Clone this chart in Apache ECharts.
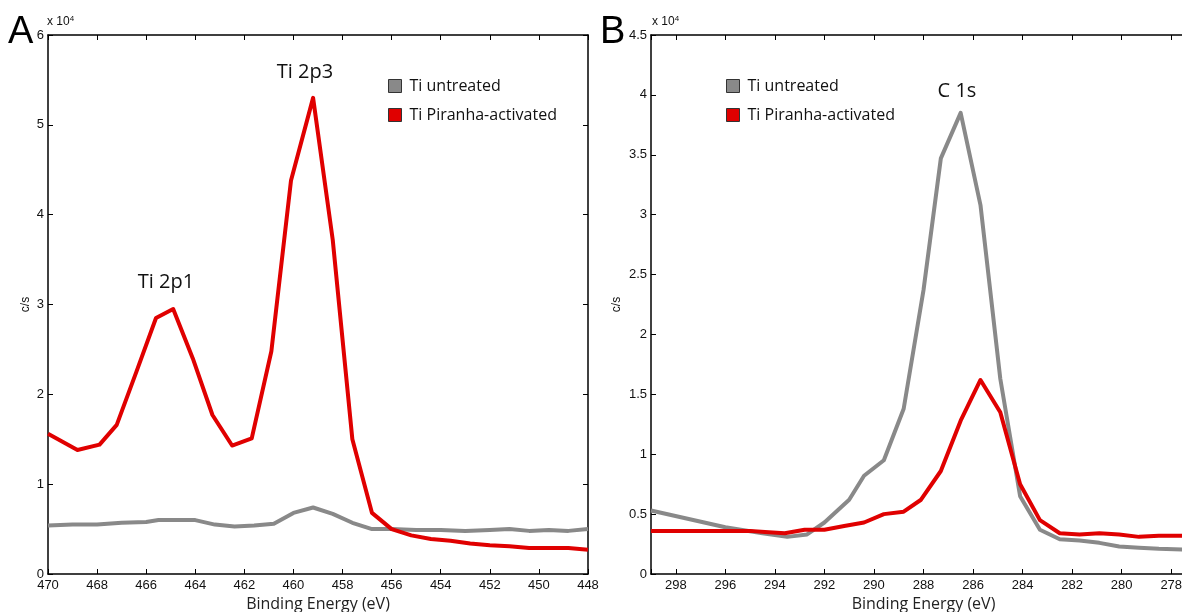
<!DOCTYPE html>
<html>
<head>
<meta charset="utf-8">
<script src="https://cdn.jsdelivr.net/npm/echarts@6/dist/echarts.min.js"></script>
<style>
html,body{margin:0;padding:0;background:#fff;}
#chart{width:1182px;height:612px;}
</style>
</head>
<body>
<div id="chart"></div>
<script>
// Panel A: Ti 2p region (values in units of 10^4 c/s)
const tiEnergyRed = [470, 468.8, 467.9, 467.2, 466.4, 465.6, 464.9, 464.1, 463.3, 462.5, 461.7, 460.9, 460.1, 459.2, 458.4, 457.6, 456.8, 456.0, 455.2, 454.4, 453.6, 452.8, 452.0, 451.2, 450.4, 449.6, 448.8, 448.0];
const tiPiranha = [1.56, 1.38, 1.44, 1.66, 2.25, 2.85, 2.95, 2.40, 1.77, 1.43, 1.51, 2.48, 4.38, 5.30, 3.72, 1.50, 0.68, 0.50, 0.43, 0.39, 0.37, 0.34, 0.32, 0.31, 0.29, 0.29, 0.29, 0.27];
const tiEnergyGray = [470, 469, 468, 467, 466, 465.5, 464, 463.2, 462.4, 461.6, 460.8, 460, 459.2, 458.4, 457.6, 456.8, 456, 455, 454, 453, 452, 451.2, 450.4, 449.6, 448.8, 448];
const tiUntreated = [0.54, 0.55, 0.55, 0.57, 0.58, 0.60, 0.60, 0.55, 0.53, 0.54, 0.56, 0.68, 0.74, 0.67, 0.57, 0.50, 0.50, 0.49, 0.49, 0.48, 0.49, 0.50, 0.48, 0.49, 0.48, 0.50];

// Panel B: C 1s region (values in units of 10^4 c/s)
const cEnergyGray = [299, 296, 294.5, 293.5, 292.7, 292.0, 291.0, 290.4, 289.6, 288.8, 288.0, 287.3, 286.5, 285.7, 284.9, 284.1, 283.3, 282.5, 281.7, 280.9, 280.1, 279.3, 278.5, 277];
const cUntreated = [0.53, 0.39, 0.34, 0.31, 0.33, 0.43, 0.62, 0.82, 0.95, 1.38, 2.37, 3.47, 3.85, 3.08, 1.63, 0.65, 0.37, 0.29, 0.28, 0.26, 0.23, 0.22, 0.21, 0.20];
const cEnergyRed = [299, 296, 295, 294.4, 293.6, 292.8, 292.0, 291.2, 290.4, 289.6, 288.8, 288.1, 287.3, 286.5, 285.7, 284.9, 284.1, 283.3, 282.5, 281.7, 280.9, 280.1, 279.3, 278.5, 277];
const cPiranha = [0.36, 0.36, 0.36, 0.35, 0.34, 0.37, 0.37, 0.40, 0.43, 0.50, 0.52, 0.62, 0.86, 1.28, 1.62, 1.35, 0.75, 0.45, 0.34, 0.33, 0.34, 0.33, 0.31, 0.32, 0.32];

const seriesNames = ['Ti untreated', 'Ti Piranha-activated'];
const colors = ['#898989', '#e00000'];

function pairs(xs, ys) { return xs.map((x, i) => [x, ys[i]]); }

const tickFont = { fontFamily: '"Liberation Sans", Arial, sans-serif', fontSize: 13, color: '#111' };
const nameFont = { fontFamily: '"Liberation Sans", Arial, sans-serif', fontSize: 12, color: '#111' };
const axisLineStyle = { lineStyle: { color: '#000', width: 1.5 } };
const tickStyle = { show: true, inside: true, length: 5, lineStyle: { color: '#000', width: 1 } };

function xAxisDef(grid, min, max, pos, labels, extra) {
  return Object.assign({
    type: 'value', gridIndex: grid, min: min, max: max, inverse: true, position: pos,
    axisLine: Object.assign({ show: true, onZero: false }, axisLineStyle),
    axisTick: tickStyle,
    splitLine: { show: false },
    axisLabel: labels ? Object.assign({ show: true, margin: 5,
      formatter: v => (Math.abs(v % 2) < 1e-9 ? String(v) : '') }, tickFont) : { show: false }
  }, extra || {});
}
function yAxisDef(grid, min, max, interval, pos, labels, name, nameGap) {
  return {
    type: 'value', gridIndex: grid, min: min, max: max, interval: interval, position: pos,
    axisLine: Object.assign({ show: true, onZero: false }, axisLineStyle),
    axisTick: tickStyle,
    splitLine: { show: false },
    axisLabel: labels ? Object.assign({ show: true, margin: 4 }, tickFont) : { show: false },
    name: name || '', nameLocation: 'middle', nameRotate: 90, nameGap: nameGap || 0,
    nameTextStyle: nameFont
  };
}

const chart = echarts.init(document.getElementById('chart'));
const lineSeries = (name, xi, yi, data, color) => ({
  name: name, type: 'line', xAxisIndex: xi, yAxisIndex: yi, data: data,
  symbol: 'none', smooth: false, silent: true, animation: false,
  lineStyle: { color: color, width: 4, join: 'round' }, itemStyle: { color: color }
});

const legendCommon = {
  orient: 'vertical', icon: 'rect', itemWidth: 13, itemHeight: 13, itemGap: 13,
  data: seriesNames, selectedMode: false,
  itemStyle: { borderColor: '#333', borderWidth: 1 },
  textStyle: { fontFamily: 'Open Sans, Noto Sans, sans-serif', fontSize: 16, color: '#111', lineHeight: 16, padding: [0,0,0,3] }
};

const textFont = 'Open Sans, Noto Sans, sans-serif';
chart.setOption({
  animation: false,
  backgroundColor: '#fff',
  grid: [
    { left: 48, top: 35, width: 540, height: 539, outerBoundsMode: 'none', containLabel: false },
    { left: 651, top: 35, width: 545, height: 539, outerBoundsMode: 'none', containLabel: false }
  ],
  xAxis: [
    xAxisDef(0, 448, 470, 'bottom', true, { interval: 2, name: 'Binding Energy (eV)', nameLocation: 'middle', nameGap: 22,
      nameTextStyle: { fontFamily: textFont, fontSize: 16, color: '#222' } }),
    xAxisDef(0, 448, 470, 'top', false, { interval: 2 }),
    xAxisDef(1, 277, 299, 'bottom', true, { splitNumber: 11, name: 'Binding Energy (eV)', nameLocation: 'middle', nameGap: 22,
      nameTextStyle: { fontFamily: textFont, fontSize: 16, color: '#222' } }),
    xAxisDef(1, 277, 299, 'top', false, { splitNumber: 11 })
  ],
  yAxis: [
    yAxisDef(0, 0, 6, 1, 'left', true, 'c/s', 16),
    yAxisDef(0, 0, 6, 1, 'right', false),
    yAxisDef(1, 0, 4.5, 0.5, 'left', true, 'c/s', 28),
    yAxisDef(1, 0, 4.5, 0.5, 'right', false)
  ],
  legend: [
    Object.assign({ left: 383, top: 73 }, legendCommon),
    Object.assign({ left: 721, top: 73 }, legendCommon)
  ],
  series: [
    lineSeries(seriesNames[0], 0, 0, pairs(tiEnergyGray, tiUntreated), colors[0]),
    lineSeries(seriesNames[1], 0, 0, pairs(tiEnergyRed, tiPiranha), colors[1]),
    lineSeries(seriesNames[0], 2, 2, pairs(cEnergyGray, cUntreated), colors[0]),
    lineSeries(seriesNames[1], 2, 2, pairs(cEnergyRed, cPiranha), colors[1])
  ],
  graphic: [
    { type: 'text', left: 8, top: 14, style: { text: 'A', font: '38px "Liberation Sans", Arial, sans-serif', fill: '#000' } },
    { type: 'text', left: 600, top: 14, style: { text: 'B', font: '38px "Liberation Sans", Arial, sans-serif', fill: '#000' } },
    { type: 'text', left: 47, top: 15, style: { text: 'x 10{s|4}', font: '12px "Liberation Sans", Arial, sans-serif', fill: '#111',
      rich: { s: { fontSize: 8, verticalAlign: 'top', padding: [0,0,6,0] } } } },
    { type: 'text', left: 652, top: 15, style: { text: 'x 10{s|4}', font: '12px "Liberation Sans", Arial, sans-serif', fill: '#111',
      rich: { s: { fontSize: 8, verticalAlign: 'top', padding: [0,0,6,0] } } } },
    { type: 'text', x: 166, y: 282, style: { text: 'Ti 2p1', font: '20px "Open Sans", "Noto Sans", sans-serif', fill: '#111', align: 'center', verticalAlign: 'middle' } },
    { type: 'text', x: 305, y: 72, style: { text: 'Ti 2p3', font: '20px "Open Sans", "Noto Sans", sans-serif', fill: '#111', align: 'center', verticalAlign: 'middle' } },
    { type: 'text', x: 957, y: 91, style: { text: 'C 1s', font: '20px "Open Sans", "Noto Sans", sans-serif', fill: '#111', align: 'center', verticalAlign: 'middle' } }
  ]
});
</script>
</body>
</html>
